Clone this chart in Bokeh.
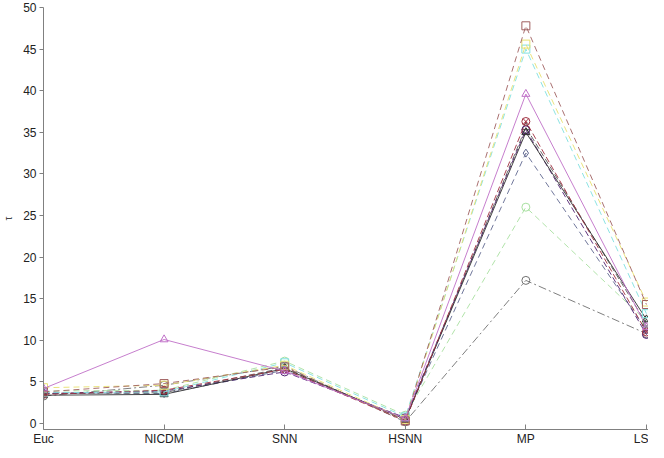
from bokeh.plotting import figure
from bokeh.embed import file_html
from bokeh.resources import INLINE
from bokeh.models import FixedTicker, Range1d

categories = ["Euc", "NICDM", "SNN", "HSNN", "MP", "LS"]
xpos = [1, 2, 3, 4, 5, 6]

s_magenta = [4.2, 10.1, 6.3, 0.6, 39.6, 11.6]
s_brown = [3.8, 4.8, 6.8, 0.3, 47.8, 14.3]
s_yellow = [4.3, 4.6, 7.0, 0.5, 45.6, 14.6]
s_cyan = [3.7, 3.8, 7.3, 0.8, 45.0, 13.2]
s_darkred = [3.5, 4.0, 6.5, 0.3, 36.3, 11.0]
s_black = [3.4, 3.5, 6.6, 0.5, 35.0, 12.5]
s_darkgray = [3.6, 3.7, 6.7, 0.4, 35.6, 12.0]
s_blue = [3.7, 3.6, 6.4, 0.6, 32.5, 11.2]
s_green = [3.9, 4.0, 7.5, 1.0, 26.0, 12.3]
s_graydot = [3.3, 4.6, 6.9, 0.2, 17.2, 10.8]
s_purple = [3.6, 3.9, 6.2, 0.7, 35.3, 10.7]

series = [
    (s_graydot, "#707070", "8 3 2 3", "circle"),
    (s_green, "#a8e0a0", "6 4", "circle"),
    (s_blue, "#606890", "6 4", "diamond"),
    (s_darkgray, "#585858", "6 3", "triangle"),
    (s_purple, "#502070", "6 3", "circle"),
    (s_black, "#303030", "solid", "triangle"),
    (s_darkred, "#a03040", "6 3", "circle_x"),
    (s_cyan, "#80e0e0", "6 4", "square"),
    (s_yellow, "#e8e070", "6 4", "square"),
    (s_brown, "#a06060", "6 4", "square"),
    (s_magenta, "#c070c8", "solid", "triangle"),
]

p = figure(width=648, height=448, output_backend="svg", toolbar_location=None,
           x_range=Range1d(1, 6.017), y_range=Range1d(-0.72, 50),
           min_border_left=41, min_border_right=0, min_border_top=7, min_border_bottom=19)
p.outline_line_color = None
p.grid.visible = False
p.background_fill_color = "white"

for vals, col, dash, mk in series:
    p.line(xpos, vals, line_color=col, line_dash=dash, line_width=1, line_alpha=0.9)
    p.scatter(xpos, vals, marker=mk, size=8, line_color=col, fill_color=None, line_width=1)

p.xaxis.ticker = FixedTicker(ticks=xpos)
p.xaxis.major_label_overrides = {x: c for x, c in zip(xpos, categories)}
p.yaxis.ticker = FixedTicker(ticks=list(range(0, 51, 5)))
for ax in (p.xaxis[0], p.yaxis[0]):
    ax.axis_line_color = "#808080"
    ax.major_tick_line_color = "#808080"
    ax.minor_tick_line_color = None
    ax.major_label_text_font = "Liberation Sans"
    ax.major_label_text_font_size = "12px"
    ax.major_label_text_color = "#222222"
p.xaxis.major_tick_in = 5
p.xaxis.major_tick_out = 0
p.xaxis.major_label_standoff = 2
p.yaxis.major_tick_in = 0
p.yaxis.major_tick_out = 4
p.yaxis.major_label_standoff = 3
p.yaxis.axis_label = "τ"
p.yaxis.axis_label_text_font = "Liberation Sans"
p.yaxis.axis_label_text_font_style = "normal"
p.yaxis.axis_label_text_font_size = "10px"
p.yaxis.axis_label_text_color = "#444444"
p.yaxis.axis_label_standoff = 6

open("out.html", "w").write(file_html(p, INLINE))
